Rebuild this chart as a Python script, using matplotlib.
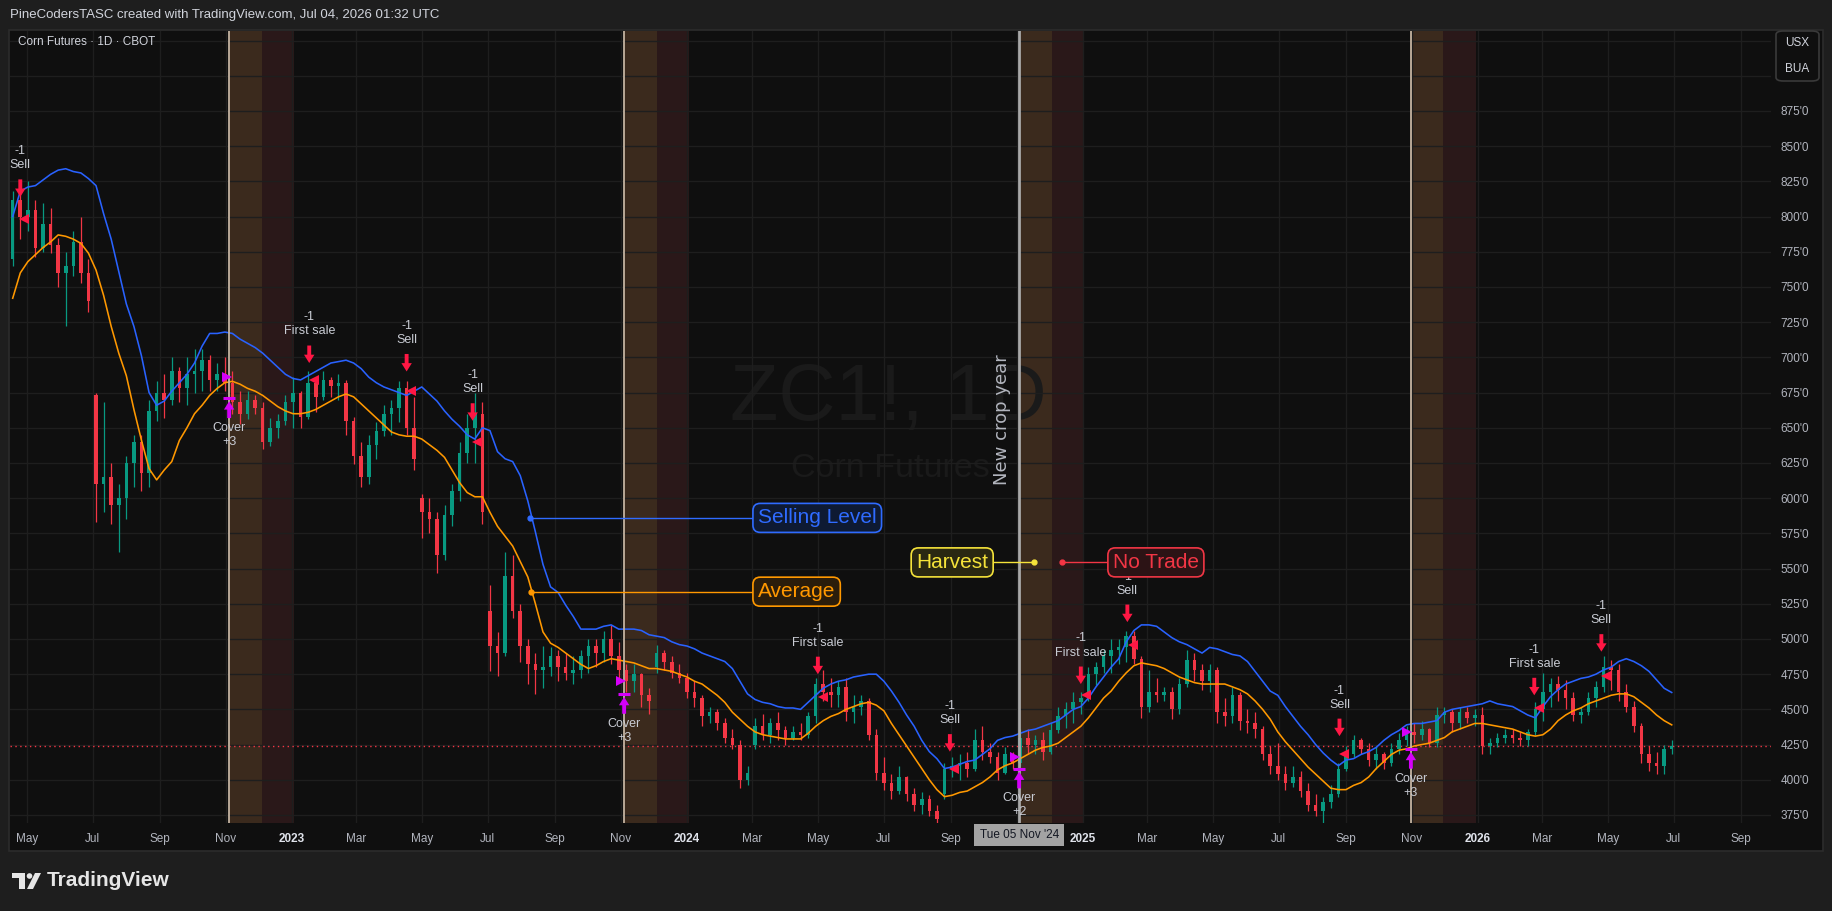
import numpy as np
import pandas as pd
import matplotlib
matplotlib.use('Agg')
import matplotlib.pyplot as plt
import matplotlib.dates as mdates
from matplotlib.patches import Rectangle, FancyBboxPatch, Polygon, Ellipse
from matplotlib.transforms import blended_transform_factory

plt.rcParams['font.family'] = ['Liberation Sans', 'DejaVu Sans']

# ---------------- data ----------------
bar_dates = pd.date_range('2022-04-18', periods=220, freq='7D')

opens = [770,812,800,805,778,795,780,760,765,782,
         760,673,610,615,595,600,625,640,618,662,
         675,670,690,678,688,690,698,684,688,682,
         668,660,670,664,640,650,655,668,675,658,
         682,672,684,680,682,655,630,615,638,648,
         660,664,678,650,600,590,585,560,588,605,
         632,650,660,520,495,490,545,520,495,482,
         478,480,488,480,476,478,488,495,490,500,
         488,478,470,475,460,480,490,484,476,472,
         462,458,445,448,440,430,425,400,425,438,
         432,440,435,430,434,432,445,468,462,460,
         466,448,452,456,432,405,398,392,402,390,
         382,386,378,390,408,410,412,408,428,420,
         416,405,418,412,430,425,428,420,435,445,
         450,455,458,475,480,488,492,494,502,486,
         452,462,460,462,450,468,485,478,470,478,
         448,445,460,442,440,436,418,410,404,398,
         402,392,382,378,384,390,408,418,428,422,
         414,418,412,422,428,434,432,436,426,446,
         448,440,448,444,446,424,426,430,432,430,
         428,434,450,462,468,464,458,446,448,458,
         466,480,478,462,452,438,418,412,410,422]
highs = [818,824,825,812,810,806,785,775,790,800,
         770,675,668,625,610,630,645,645,670,683,
         688,700,693,700,706,706,702,696,700,690,
         676,676,673,668,657,660,673,686,676,690,
         686,690,686,688,684,658,640,645,654,666,
         670,683,683,672,603,600,590,595,610,640,
         660,675,668,538,505,562,560,525,500,490,
         495,494,492,490,488,492,500,500,506,510,
         498,482,482,476,465,496,492,488,482,476,
         470,460,452,450,444,436,428,410,444,447,
         444,448,438,438,440,448,472,478,472,470,
         472,460,460,458,436,416,404,410,403,394,
         391,389,382,412,416,418,420,436,438,426,
         420,423,420,436,436,432,434,440,452,455,
         462,462,480,484,492,500,500,506,506,488,
         478,472,466,466,472,492,490,482,482,480,
         458,466,462,450,448,438,424,426,410,410,
         406,398,390,388,396,412,424,432,430,426,
         424,420,426,433,438,440,442,437,452,452,
         450,452,452,450,452,430,433,436,436,434,
         436,455,476,472,474,471,462,452,462,470,
         488,485,482,468,456,440,424,420,425,428]
lows = [765,784,790,771,775,774,750,722,758,753,
        732,583,590,582,562,585,608,605,608,655,
        657,666,668,666,675,676,676,676,676,660,
        653,656,660,635,637,643,652,650,650,656,
        661,670,672,670,645,624,608,610,628,644,
        645,654,645,620,572,575,547,556,580,598,
        625,625,582,477,474,488,515,484,468,461,
        465,474,470,471,468,472,476,480,484,482,
        472,462,462,452,447,476,478,472,469,458,
        452,438,440,435,426,422,394,396,422,428,
        426,428,425,428,428,430,440,456,452,452,
        442,440,446,428,400,393,386,390,385,378,
        376,374,369,386,402,400,402,406,414,412,
        400,404,408,410,418,418,414,418,433,437,
        440,447,456,467,476,476,482,484,482,444,
        448,455,456,443,447,466,470,464,462,440,
        438,440,435,433,430,414,404,400,393,395,
        388,378,374,369,380,388,406,416,418,410,
        408,408,410,418,424,426,428,423,423,440,
        434,436,440,438,418,418,423,426,426,424,
        424,432,442,452,456,450,442,440,446,452,
        462,464,456,448,434,412,406,404,404,418]
closes = [812,800,805,778,795,780,760,765,782,760,
          740,610,615,595,600,625,640,618,662,675,
          670,690,678,688,690,698,684,688,682,668,
          660,670,664,640,650,655,668,675,658,682,
          672,684,680,682,655,630,615,638,648,660,
          664,678,650,628,590,585,560,588,605,632,
          650,660,590,495,490,545,520,495,482,478,
          480,488,480,476,478,488,495,490,500,488,
          478,470,475,460,456,490,484,476,472,462,
          458,445,448,440,430,425,400,405,438,432,
          440,435,430,434,432,445,468,462,460,466,
          448,452,456,432,405,398,392,402,390,382,
          386,378,372,408,410,412,408,428,420,416,
          405,418,412,430,425,428,420,435,445,450,
          455,458,475,480,488,492,494,502,486,452,
          462,460,462,450,468,485,478,470,478,448,
          445,460,442,440,436,418,410,404,398,402,
          392,382,378,384,390,408,418,428,422,414,
          418,412,422,428,434,432,436,426,446,448,
          440,448,444,446,424,426,430,432,430,428,
          434,450,462,468,464,458,446,448,458,466,
          480,478,462,452,438,418,412,410,422,424]

selling_level = [800,818,821,822,826,830,833,834,832,831,
                 827,822,802,784,761,738,722,701,675,666,
                 669,676,682,688,696,708,717,717,718,717,
                 713,710,707,703,698,693,688,685,684,687,
                 690,693,696,697,698,696,692,686,682,679,
                 677,675,673,676,679,674,669,662,656,651,
                 645,642,650,648,633,628,626,616,598,576,
                 553,537,533,524,516,507,507,507,509,510,
                 507,507,507,506,503,502,501,498,496,495,
                 493,490,488,486,484,479,470,461,457,455,
                 454,452,451,451,450,455,460,465,468,470,
                 471,473,474,475,475,470,463,455,446,438,
                 428,420,415,408,409,411,413,414,418,422,
                 428,430,431,433,435,436,438,440,442,446,
                 450,452,458,466,473,480,486,498,506,510,
                 510,509,505,501,498,496,493,490,494,493,
                 491,489,488,484,477,470,463,460,452,445,
                 438,432,425,419,414,410,414,415,418,420,
                 423,428,432,435,439,440,440,441,442,448,
                 450,451,452,453,454,456,454,453,452,449,
                 446,444,452,459,464,468,470,472,473,475,
                 478,480,484,486,484,481,477,471,465,462]
average = [742,760,768,773,778,782,787,786,784,781,
           774,762,744,722,703,687,663,641,621,613,
           620,626,641,650,660,666,673,678,682,683,
           681,678,676,673,669,665,662,660,660,661,
           663,666,669,672,674,672,667,662,657,652,
           647,645,644,644,642,638,634,629,620,611,
           604,601,601,590,580,573,566,555,544,525,
           505,497,494,490,486,482,479,481,484,486,
           485,484,483,481,479,479,478,477,475,473,
           470,468,464,460,455,448,443,438,434,432,
           431,430,429,429,429,433,438,442,445,447,
           450,452,454,455,453,449,440,432,424,416,
           408,400,393,388,389,391,392,395,398,402,
           407,410,412,415,418,421,423,424,426,430,
           434,438,444,451,458,463,470,476,481,483,
           482,481,479,476,473,471,469,468,468,468,
           468,466,464,461,456,450,443,434,427,421,
           415,409,404,399,394,393,393,396,398,402,
           408,413,418,421,422,424,425,426,428,430,
           434,436,438,440,440,439,438,437,436,434,
           432,431,432,436,442,446,449,451,454,456,
           458,460,461,461,459,455,451,446,442,439]

last_price = 424

sell_dates = ['2022-04-25', '2023-01-17', '2023-04-17', '2023-06-17', '2024-05-01',
              '2024-08-31', '2024-12-30', '2025-02-11', '2025-08-26', '2026-02-22', '2026-04-25']
sell_tips = [814, 696, 690, 655, 475, 420, 468, 512, 431, 460, 491]
sell_kinds = ['Sell', 'First sale', 'Sell', 'Sell', 'First sale', 'Sell',
              'First sale', 'Sell', 'Sell', 'First sale', 'Sell']
sell_qty = ['-1'] * 11
sell_tri_dates = ['2022-04-28', '2023-01-21', '2023-04-21', '2023-06-21', '2024-05-06',
                  '2024-09-04', '2025-01-04', '2025-02-16', '2025-08-30', '2026-02-26', '2026-04-29']
sell_tri_prices = [798, 684, 676, 640, 459, 408, 460, 496, 418, 451, 474]

crop_dates = ['2022-11-04', '2023-11-04', '2024-11-03', '2025-10-31']
cover_tops = [671, 461, 408, 422]
cover_qty = ['+3', '+3', '+2', '+3']
cover_tri_dates = ['2022-11-02', '2023-11-01', '2024-10-30', '2025-10-27']
cover_tri_prices = [686, 470, 416, 434]

tick_dates = ['2022-05-01', '2022-07-01', '2022-09-01', '2022-11-01', '2023-01-01', '2023-03-01',
              '2023-05-01', '2023-07-01', '2023-09-01', '2023-11-01', '2024-01-01', '2024-03-01',
              '2024-05-01', '2024-07-01', '2024-09-01', '2024-11-01', '2025-01-01', '2025-03-01',
              '2025-05-01', '2025-07-01', '2025-09-01', '2025-11-01', '2026-01-01', '2026-03-01',
              '2026-05-01', '2026-07-01', '2026-09-01']
# the Nov 2024 label is hidden under the crosshair date box in the reference
tick_labels = ['May', 'Jul', 'Sep', 'Nov', '2023', 'Mar', 'May', 'Jul', 'Sep', 'Nov', '2024', 'Mar',
               'May', 'Jul', 'Sep', '', '2025', 'Mar', 'May', 'Jul', 'Sep', 'Nov', '2026', 'Mar',
               'May', 'Jul', 'Sep']
price_ticks = [375, 400, 425, 450, 475, 500, 525, 550, 575, 600, 625, 650, 675, 700,
               725, 750, 775, 800, 825, 850, 875, 900, 925]

# legend-label anchors (date, price)
sl_dot, sl_box, sl_price = '2023-08-09', '2024-03-02', 586
av_dot, av_box, av_price = '2023-08-10', '2024-03-02', 533.6
hv_box, hv_dot, hv_price = '2024-10-10', '2024-11-17', 554.4
nt_dot, nt_box, nt_price = '2024-12-13', '2025-01-24', 554.4
ncy_date, ncy_price = '2024-10-18', 656

# ---------------- figure ----------------
W, H = 1833, 911
fig = plt.figure(figsize=(W / 100, H / 100), dpi=100, facecolor='#1e1e1e')


def fx(x):
    return x / W


def fy(y):
    return 1 - y / H


fig.patches.append(Rectangle((fx(9), fy(851)), (1823 - 9) / W, (851 - 30) / H,
                             transform=fig.transFigure, facecolor='#0f0f0f',
                             edgecolor='#2c2c2c', lw=1.2, zorder=-5))

ax = fig.add_axes([fx(10), fy(823), (1771 - 10) / W, (823 - 30.6) / H])
ax.set_facecolor('#0f0f0f')
for s in ax.spines.values():
    s.set_visible(False)

d = mdates.date2num(bar_dates)
o = np.array(opens, float)
h = np.array(highs, float)
l = np.array(lows, float)
c = np.array(closes, float)

ax.set_xlim(mdates.date2num(pd.Timestamp('2022-04-15 12:00')),
            mdates.date2num(pd.Timestamp('2026-09-28 18:00')))
ax.set_ylim(369.3, 932.1)

# grid
ax.set_xticks(mdates.date2num(pd.to_datetime(tick_dates)))
ax.set_xticklabels(tick_labels)
ax.set_yticks(price_ticks)
ax.set_yticklabels([f"{v}'0" if v <= 875 else '' for v in price_ticks])
ax.grid(True, color='#1e1e1e', lw=1, zorder=0)
ax.set_axisbelow(True)
ax.yaxis.tick_right()
ax.tick_params(axis='both', length=0, colors='#b2b5be', labelsize=8.5)
ax.tick_params(axis='x', pad=7)
ax.tick_params(axis='y', pad=7)
for t in ax.get_xticklabels():
    if t.get_text().isdigit():
        t.set_color('#e0e3eb')
        t.set_fontweight('bold')

# watermark
ax.text(0.4986, 0.534, 'ZC1!, 1D', transform=ax.transAxes, ha='center', va='center',
        fontsize=57, color='#1a1a1a', zorder=0.3)
ax.text(0.500, 0.448, 'Corn Futures', transform=ax.transAxes, ha='center', va='center',
        fontsize=24.5, color='#1a1a1a', zorder=0.3)

# harvest / no-trade shading and crop year lines
crop_num = mdates.date2num(pd.to_datetime(crop_dates))
for i, cd in enumerate(crop_num):
    ax.axvspan(cd, cd + 30, color='#3b2a1d', lw=0, zorder=0.2)
    ax.axvspan(cd + 30, cd + 60, color='#2a1819', lw=0, zorder=0.2)
    if i == 2:
        ax.axvline(cd, color='#a9a9a9', lw=2.0, zorder=3.5)
    else:
        ax.axvline(cd, color='#c4b3a1', lw=1.3, zorder=3.5)

# current price line
ax.axhline(last_price, color='#f23645', lw=1, ls=(0, (1, 2.5)), zorder=1.5)

# candles
up = c >= o
cols = np.where(up, '#089981', '#f23645')
ax.vlines(d, l, h, colors=cols, lw=0.9, zorder=2)
ax.bar(d, np.maximum(np.abs(c - o), 0.8), bottom=np.minimum(o, c), width=3.3,
       color=cols, linewidth=0, zorder=2.1)

# lines
ax.plot(d, selling_level, color='#2962ff', lw=1.15, zorder=3)
ax.plot(d, average, color='#ff9800', lw=1.15, zorder=3)

RED = '#ff1744'
MAG = '#d500f9'
TXT = '#c9ccd4'

# sell signals
for sd, tp, kind, q in zip(pd.to_datetime(sell_dates), sell_tips, sell_kinds, sell_qty):
    xd = mdates.date2num(sd)
    ax.annotate('', xy=(xd, tp), xytext=(0, 12.6), textcoords='offset points',
                arrowprops=dict(arrowstyle='simple,head_length=0.6,head_width=0.75,tail_width=0.28',
                                mutation_scale=10, color=RED, lw=0, shrinkA=0, shrinkB=0),
                zorder=5)
    ax.annotate(kind, xy=(xd, tp), xytext=(0, 22.7), textcoords='offset points',
                ha='center', va='center', fontsize=9, color=TXT, zorder=5)
    ax.annotate(q, xy=(xd, tp), xytext=(0, 32.8), textcoords='offset points',
                ha='center', va='center', fontsize=9, color=TXT, zorder=5)

ax.plot(mdates.date2num(pd.to_datetime(sell_tri_dates)), sell_tri_prices, ls='none',
        marker='<', ms=6.5, color=RED, mew=0, zorder=5)

# cover signals
for xd, tp, q in zip(crop_num, cover_tops, cover_qty):
    ax.annotate('', xy=(xd, tp), xytext=(0, -14.3), textcoords='offset points',
                arrowprops=dict(arrowstyle='simple,head_length=0.6,head_width=0.75,tail_width=0.28',
                                mutation_scale=10, color=MAG, lw=0, shrinkA=0, shrinkB=2.2),
                zorder=5)
    ax.plot([xd], [tp], marker='_', ms=9, mew=2.2, color=MAG, zorder=5)
    ax.annotate('Cover', xy=(xd, tp), xytext=(0, -21.5), textcoords='offset points',
                ha='center', va='center', fontsize=9, color=TXT, zorder=5)
    ax.annotate(q, xy=(xd, tp), xytext=(0, -31.5), textcoords='offset points',
                ha='center', va='center', fontsize=9, color=TXT, zorder=5)

ax.plot(mdates.date2num(pd.to_datetime(cover_tri_dates)), cover_tri_prices, ls='none',
        marker='>', ms=6.5, color=MAG, mew=0, zorder=5)


# labelled boxes
def dn(s):
    return mdates.date2num(pd.Timestamp(s))


def tag(text, x_dot, x_box, p, col, fill, side):
    ax.plot([dn(x_dot), dn(x_box)], [p, p], color=col, lw=1, zorder=4)
    ax.plot([dn(x_dot)], [p], marker='o', ms=3.5, color=col, zorder=4)
    off = 3.6 if side == 'left' else -3.6
    ax.annotate(text, xy=(dn(x_box), p), xytext=(off, 0), textcoords='offset points',
                ha=side, va='center', fontsize=15, color=col, zorder=6,
                bbox=dict(boxstyle='round,pad=0.24,rounding_size=0.35', fc=fill, ec=col, lw=1.2))


tag('Selling Level', sl_dot, sl_box, sl_price, '#2f6bff', '#0e1a33', 'left')
tag('Average', av_dot, av_box, av_price, '#ff9800', '#2b1d0b', 'left')
tag('Harvest', hv_dot, hv_box, hv_price, '#f5e33a', '#2a2812', 'right')
tag('No Trade', nt_dot, nt_box, nt_price, '#f23645', '#2c1315', 'left')

ax.text(dn(ncy_date), ncy_price, 'New crop year', rotation=90, ha='center', va='center',
        fontsize=13, color='#b2b5be', family=['DejaVu Sans'], zorder=6)

# date label on the time axis
bt = blended_transform_factory(ax.transData, ax.transAxes)
ax.text(crop_num[2], -0.0151, "Tue 05 Nov '24", transform=bt, ha='center', va='center',
        fontsize=8.5, color='#131722', clip_on=False, zorder=10,
        bbox=dict(boxstyle='square,pad=0.45', fc='#a3a3a3', ec='none'))

# header texts
fig.text(fx(10), fy(15), 'PineCodersTASC created with TradingView.com, Jul 04, 2026 01:32 UTC',
         ha='left', va='center', fontsize=9.5, color='#d1d4dc')
fig.text(fx(18), fy(42), 'Corn Futures \u00b7 1D \u00b7 CBOT', ha='left', va='center',
         fontsize=8.5, color='#d1d4dc')

# currency/unit box
fig.patches.append(FancyBboxPatch((fx(1776), fy(81)), (1819 - 1776) / W, (81 - 31) / H,
                                  boxstyle='round,pad=0,rounding_size=0.004',
                                  transform=fig.transFigure, fc='#0f0f0f', ec='#3a3a3a', lw=1.2,
                                  zorder=5))
fig.text(fx(1797), fy(43), 'USX', ha='center', va='center', fontsize=8.5, color='#d1d4dc', zorder=6)
fig.text(fx(1797), fy(69), 'BUA', ha='center', va='center', fontsize=8.5, color='#d1d4dc', zorder=6)

# TradingView logo
LOGO = '#e6e6e6'
fig.patches.append(Polygon([(fx(12), fy(873)), (fx(25), fy(873)), (fx(25), fy(889)), (fx(19), fy(889)),
                            (fx(19), fy(878)), (fx(12), fy(878))], closed=True,
                           transform=fig.transFigure, fc=LOGO, ec='none'))
fig.patches.append(Ellipse((fx(29.5), fy(876)), 5.6 / W, 5.6 / H, transform=fig.transFigure,
                           fc=LOGO, ec='none'))
fig.patches.append(Polygon([(fx(27), fy(889)), (fx(33), fy(889)), (fx(41), fy(873)), (fx(35), fy(873))],
                           closed=True, transform=fig.transFigure, fc=LOGO, ec='none'))
fig.text(fx(47), fy(880), 'TradingView', ha='left', va='center', fontsize=15, fontweight='bold',
         color=LOGO)

fig.savefig('out.png', dpi=100, facecolor=fig.get_facecolor())
